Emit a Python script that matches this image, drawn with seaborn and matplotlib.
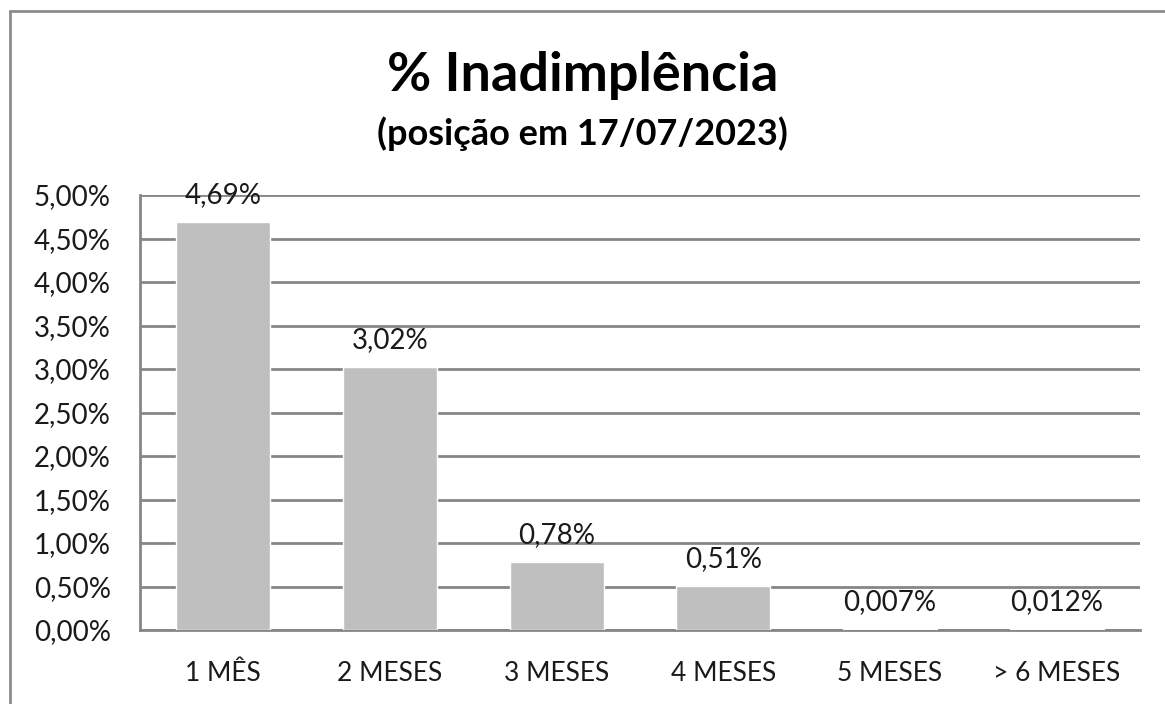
import matplotlib
matplotlib.use("Agg")
import matplotlib.pyplot as plt
import matplotlib.ticker as mticker
from matplotlib.lines import Line2D
import seaborn as sns
import pandas as pd

# chart data
categorias = ["1 MÊS", "2 MESES", "3 MESES", "4 MESES", "5 MESES", "> 6 MESES"]
valores = [4.69, 3.02, 0.78, 0.51, 0.007, 0.012]
rotulos = ["4,69%", "3,02%", "0,78%", "0,51%", "0,007%", "0,012%"]
y_ticks = [0.0, 0.5, 1.0, 1.5, 2.0, 2.5, 3.0, 3.5, 4.0, 4.5, 5.0]

titulo = "% Inadimplência"
subtitulo = "(posição em 17/07/2023)"

sns.set_style("white")
plt.rcParams['font.family'] = ['Lato', 'DejaVu Sans']

GRID = "#868686"
BAR = "#BFBFBF"
TXT = "#1a1a1a"

df = pd.DataFrame({"cat": categorias, "val": valores})

fig = plt.figure(figsize=(11.65, 7.04), dpi=100)
ax = fig.add_axes([140 / 1165, 1 - 630 / 704, 1000 / 1165, 435 / 704])

sns.barplot(data=df, x="cat", y="val", color=BAR, width=0.565, ax=ax,
            saturation=1, zorder=3)

ax.set_ylim(0, 5)
ax.set_yticks(y_ticks)
ax.yaxis.set_major_formatter(mticker.FuncFormatter(
    lambda v, p: f"{v:.2f}".replace(".", ",") + "%"))
ax.grid(axis="y", color=GRID, linewidth=2, zorder=0)
ax.set_axisbelow(True)

for s in ["top", "right"]:
    ax.spines[s].set_visible(False)
for s in ["left", "bottom"]:
    ax.spines[s].set_color(GRID)
    ax.spines[s].set_linewidth(2)

ax.tick_params(axis="both", length=0, colors=TXT)
ax.tick_params(axis="y", pad=21, labelsize=20)
ax.tick_params(axis="x", pad=22, labelsize=19)
ax.set_xlabel("")
ax.set_ylabel("")

for bar, txt in zip(ax.patches, rotulos):
    ax.annotate(txt, (bar.get_x() + bar.get_width() / 2, bar.get_height()),
                xytext=(0, 10), textcoords="offset points",
                ha="center", va="bottom", fontsize=20, color=TXT)

fig.text(0.5, 1 - 76 / 704, titulo, ha="center", va="center",
         fontsize=39, fontweight="bold", color="black")
fig.text(0.5, 1 - 134 / 704, subtitulo, ha="center", va="center",
         fontsize=26, fontweight="bold", color="black")

# outer chart border (top and left edges visible)
fig.add_artist(Line2D([9.5 / 1165, 1], [1 - 11 / 704, 1 - 11 / 704],
                      transform=fig.transFigure, color="#8c8c8c", linewidth=2))
fig.add_artist(Line2D([9.5 / 1165, 9.5 / 1165], [0, 1 - 11 / 704],
                      transform=fig.transFigure, color="#8c8c8c", linewidth=2))

fig.savefig("out.png", dpi=100)
